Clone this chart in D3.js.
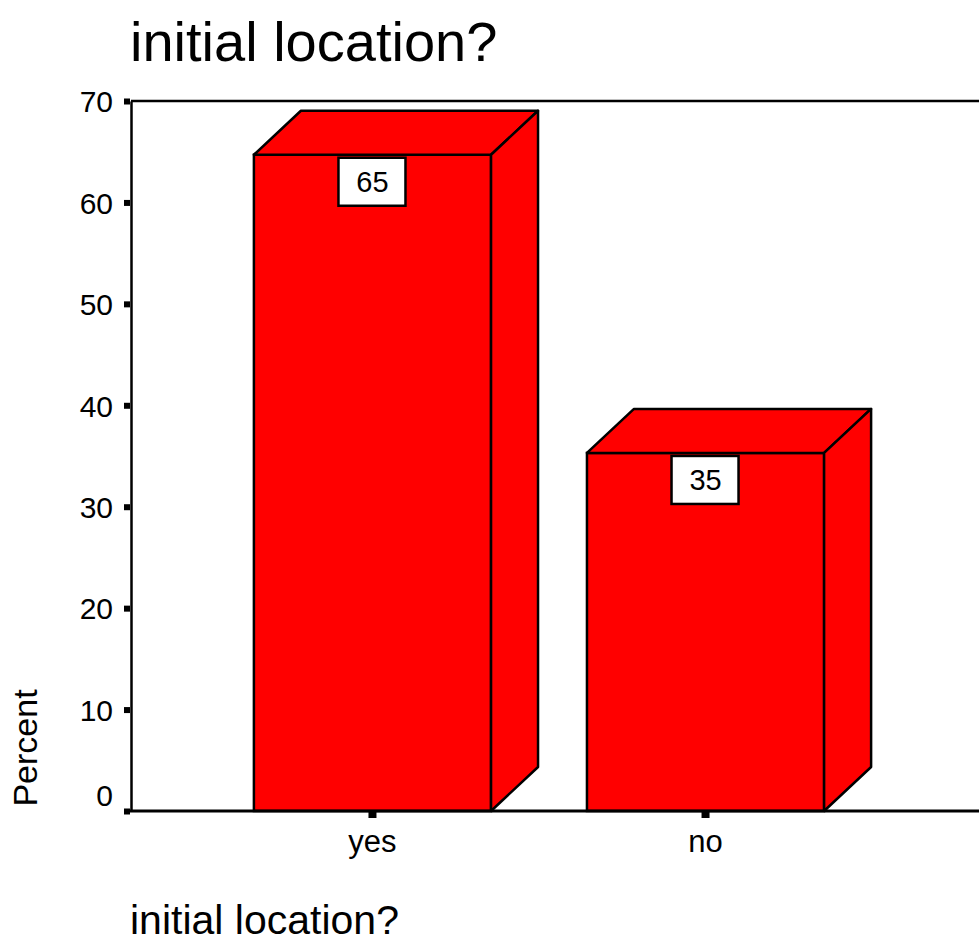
<!DOCTYPE html>
<html>
<head>
<meta charset="utf-8">
<script src="https://cdn.jsdelivr.net/npm/d3@7"></script>
<style>
    body { margin: 0; background: #fff; }
    text { font-family: "Liberation Sans", Arial, sans-serif; fill: #000; }
</style>
</head>
<body>
<svg id="chart" width="979" height="944"></svg>
<script>
// Data
let categories = ["yes", "no"];
let percents = [64.7, 35.3];
let labels = ["65", "35"];
let yTicks = [0, 10, 20, 30, 40, 50, 60, 70];

let svg = d3.select("#chart");

let plotLeft = 131, plotTop = 101, plotBottom = 811;
let depthX = 47, depthY = 44;

let yScale = d3.scaleLinear().domain([0, 70]).range([plotBottom, plotTop]);
let xScale = d3.scaleBand().domain(categories).range([plotLeft, 947])
    .paddingInner(0.288).paddingOuter(0.369);

// Title
svg.append("text")
    .attr("x", 130)
    .attr("y", 61)
    .style("font-size", "56px")
    .text("initial location?");

// Frame top line
svg.append("line")
    .attr("x1", plotLeft).attr("x2", 979)
    .attr("y1", plotTop).attr("y2", plotTop)
    .attr("stroke", "#000")
    .attr("stroke-width", 2.5);

// Bars (front, top and side faces)
let bars = svg.selectAll(".bar")
    .data(categories.map((c, i) => ({ key: c, value: percents[i], label: labels[i] })))
    .enter().append("g")
    .attr("class", "bar");

bars.append("rect")
    .attr("x", d => xScale(d.key))
    .attr("y", d => yScale(d.value))
    .attr("width", xScale.bandwidth())
    .attr("height", d => plotBottom - yScale(d.value))
    .attr("fill", "#ff0000")
    .attr("stroke", "#000")
    .attr("stroke-width", 2.5);

bars.append("path")
    .attr("d", function (d) {
        let x0 = xScale(d.key), x1 = x0 + xScale.bandwidth(), y0 = yScale(d.value);
        return "M" + x0 + "," + y0 + "L" + (x0 + depthX) + "," + (y0 - depthY) +
            "L" + (x1 + depthX) + "," + (y0 - depthY) + "L" + x1 + "," + y0 + "Z";
    })
    .attr("fill", "#ff0000")
    .attr("stroke", "#000")
    .attr("stroke-width", 2.5)
    .attr("stroke-linejoin", "round");

bars.append("path")
    .attr("d", function (d) {
        let x1 = xScale(d.key) + xScale.bandwidth(), y0 = yScale(d.value);
        return "M" + x1 + "," + y0 + "L" + (x1 + depthX) + "," + (y0 - depthY) +
            "L" + (x1 + depthX) + "," + (plotBottom - depthY) + "L" + x1 + "," + plotBottom + "Z";
    })
    .attr("fill", "#ff0000")
    .attr("stroke", "#000")
    .attr("stroke-width", 2.5)
    .attr("stroke-linejoin", "round");

// Value boxes
bars.append("rect")
    .attr("x", d => xScale(d.key) + xScale.bandwidth() / 2 - 34)
    .attr("y", d => yScale(d.value) + 3)
    .attr("width", 67)
    .attr("height", 48)
    .attr("fill", "#fff")
    .attr("stroke", "#000")
    .attr("stroke-width", 2.5);

bars.append("text")
    .attr("x", d => xScale(d.key) + xScale.bandwidth() / 2)
    .attr("y", d => yScale(d.value) + 37)
    .attr("text-anchor", "middle")
    .style("font-size", "29px")
    .text(d => d.label);

// Y axis
let yAxis = svg.append("g")
    .attr("transform", "translate(" + plotLeft + ",0)")
    .call(d3.axisLeft(yScale).tickValues(yTicks).tickSize(0).tickPadding(18));
yAxis.select(".domain").attr("stroke", "#000").attr("stroke-width", 2.5);
yAxis.selectAll("text")
    .style("font-size", "30px")
    .attr("dy", "0.36em")
    .attr("font-family", null);
// SPSS lifts the zero label above the baseline
yAxis.selectAll(".tick").filter(d => d === 0).select("text").attr("dy", "-0.18em");
yAxis.selectAll(".tick").append("rect")
    .attr("x", -7).attr("y", -3)
    .attr("width", 6).attr("height", 6)
    .attr("fill", "#000");

// X axis
svg.append("line")
    .attr("x1", plotLeft - 1).attr("x2", 979)
    .attr("y1", plotBottom).attr("y2", plotBottom)
    .attr("stroke", "#000")
    .attr("stroke-width", 3);

let xAxis = svg.append("g")
    .attr("transform", "translate(0," + plotBottom + ")")
    .call(d3.axisBottom(xScale).tickSize(0).tickPadding(19));
xAxis.select(".domain").remove();
xAxis.selectAll("text")
    .style("font-size", "31px")
    .attr("font-family", null);
xAxis.selectAll(".tick").append("rect")
    .attr("x", -4).attr("y", 1)
    .attr("width", 8).attr("height", 6)
    .attr("fill", "#000");

// Axis titles
svg.append("text")
    .attr("transform", "translate(37,748) rotate(-90)")
    .attr("text-anchor", "middle")
    .style("font-size", "34px")
    .text("Percent");

svg.append("text")
    .attr("x", 130)
    .attr("y", 934)
    .style("font-size", "41px")
    .text("initial location?");
</script>
</body>
</html>
